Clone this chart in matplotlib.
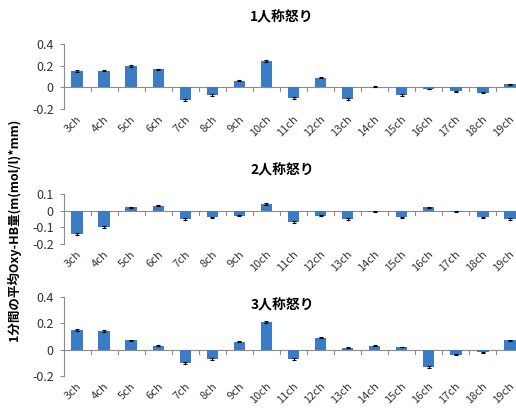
import numpy as np
import matplotlib
matplotlib.use('Agg')
import matplotlib.pyplot as plt

plt.rcParams['font.family'] = ['Noto Sans CJK JP', 'DejaVu Sans']

# ---- données ----
canaux = ['3ch', '4ch', '5ch', '6ch', '7ch', '8ch', '9ch', '10ch', '11ch',
          '12ch', '13ch', '14ch', '15ch', '16ch', '17ch', '18ch', '19ch']

titres = ['1人称怒り', '2人称怒り', '3人称怒り']

val_1 = [0.150, 0.155, 0.200, 0.165, -0.120, -0.070, 0.060, 0.240, -0.100,
         0.090, -0.110, 0.005, -0.070, -0.015, -0.035, -0.050, 0.030]
err_1 = [0.008, 0.007, 0.008, 0.007, 0.008, 0.006, 0.004, 0.008, 0.007,
         0.005, 0.007, 0.003, 0.006, 0.004, 0.004, 0.004, 0.004]

val_2 = [-0.140, -0.100, 0.020, 0.030, -0.050, -0.040, -0.030, 0.040, -0.070,
         -0.030, -0.050, -0.005, -0.040, 0.020, -0.005, -0.040, -0.050]
err_2 = [0.008, 0.006, 0.003, 0.003, 0.004, 0.004, 0.003, 0.004, 0.005,
         0.003, 0.004, 0.002, 0.004, 0.003, 0.002, 0.004, 0.004]

val_3 = [0.150, 0.140, 0.070, 0.030, -0.100, -0.070, 0.060, 0.210, -0.070,
         0.090, 0.015, 0.030, 0.020, -0.130, -0.040, -0.020, 0.070]
err_3 = [0.006, 0.008, 0.004, 0.003, 0.006, 0.005, 0.004, 0.009, 0.005,
         0.004, 0.002, 0.003, 0.002, 0.007, 0.004, 0.003, 0.003]

valeurs = [val_1, val_2, val_3]
erreurs = [err_1, err_2, err_3]

yticks = [[0.4, 0.2, 0, -0.2], [0.1, 0, -0.1, -0.2], [0.4, 0.2, 0, -0.2]]
ylims = [(-0.2, 0.4), (-0.2, 0.1), (-0.2, 0.4)]

# positions des axes (en pixels, figure 516x412)
W, H = 516, 412
boites = [(44, 109), (194, 244), (297, 376)]  # (haut, bas)
x_gauche, x_droite = 63.5, 523.5

couleur = '#3B7CC6'
gris = '#8C8C8C'

fig = plt.figure(figsize=(W / 100, H / 100), dpi=100)

x = np.arange(len(canaux))
for i in range(3):
    haut, bas = boites[i]
    ax = fig.add_axes([x_gauche / W, 1 - bas / H,
                       (x_droite - x_gauche) / W, (bas - haut) / H])
    ax.bar(x, valeurs[i], width=0.42, color=couleur, zorder=2)
    ax.errorbar(x, valeurs[i], yerr=erreurs[i], fmt='none', ecolor='black',
                elinewidth=0.8, capsize=1.5, capthick=0.8, zorder=3)
    ax.set_xlim(-0.5, len(canaux) - 0.5)
    ax.set_ylim(*ylims[i])
    ax.set_yticks(yticks[i])
    ax.set_yticklabels(['0' if t == 0 else f'{t:g}' for t in yticks[i]],
                       fontsize=9, color='#333333')
    ax.tick_params(axis='y', length=3, color=gris, pad=4)

    for s in ['top', 'right', 'bottom']:
        ax.spines[s].set_visible(False)
    ax.spines['left'].set_color(gris)
    ax.spines['left'].set_linewidth(0.8)

    # ligne du zéro et graduations entre catégories (4 px vers le bas)
    ax.axhline(0, color=gris, linewidth=0.8, zorder=1)
    ax.set_xticks([])
    plage = ylims[i][1] - ylims[i][0]
    long_tick = 4.0 / (bas - haut) * plage
    for b in np.arange(0.5, len(canaux) - 0.5, 1):
        ax.plot([b, b], [0, -long_tick], color=gris, linewidth=0.8, zorder=1)

    # étiquettes des catégories, en bas de la zone de tracé
    for xi, lab in zip(x, canaux):
        ax.text(xi - 0.02, ylims[i][0] - 5.0 / (bas - haut) * plage, lab,
                rotation=45, ha='right', va='top', fontsize=8,
                color='#333333', rotation_mode='anchor')

# titres
fig.text(282 / W, 1 - 17 / H, titres[0], ha='center', va='center',
         fontsize=10, fontweight='bold')
fig.text(282 / W, 1 - 170 / H, titres[1], ha='center', va='center',
         fontsize=10, fontweight='bold')
fig.text(282 / W, 1 - 305 / H, titres[2], ha='center', va='center',
         fontsize=10, fontweight='bold')

fig.text(14 / W, 1 - 230 / H, '1分間の平均Oxy-HB量(m(mol/l)*mm)',
         rotation=90, ha='center', va='center', fontsize=9, fontweight='bold')

fig.savefig('out.png', dpi=100)
